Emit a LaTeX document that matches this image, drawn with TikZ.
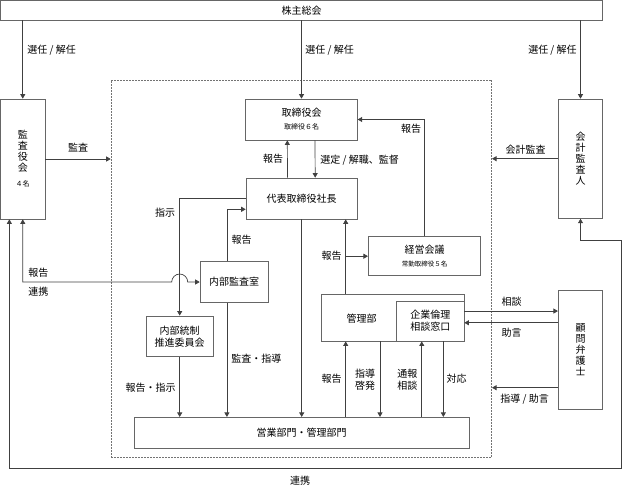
\documentclass[tikz,border=0pt]{standalone}
\usepackage{fontspec}
\setmainfont{Noto Sans CJK JP}
\usetikzlibrary{arrows.meta}

\begin{document}
\begin{tikzpicture}[x=1pt,y=-1pt,->,>={Triangle[length=4.5pt,width=5pt]},line width=0.7pt,color=black!75,text=black,font=\fontsize{10}{12}\selectfont]
		\tikzstyle{box}=[draw=black!60,fill=white,inner sep=0pt,align=center]
		\tikzstyle{tate}=[box,font=\fontsize{10}{10.8}\selectfont]
		\tikzstyle{frame}=[draw=black!55,line width=0.6pt,dash pattern=on 2pt off 1pt,inner sep=0pt]
		\tikzstyle{txt}=[inner sep=0pt,align=center]
		\tikzstyle{small}=[font=\fontsize{7}{8}\selectfont]
		\useasboundingbox (0,0) rectangle (623,487);
		
		\node[frame,minimum width=380.7pt,minimum height=377.3pt] (waku) at (301.35,268.65) {};
		
		\node[box,minimum width=602.2pt,minimum height=19.5pt] (soukai) at (301.6,10.25) {株主総会};
		\node[tate,minimum width=44.5pt,minimum height=120pt] (kansa) at (22.75,159) {監\\査\\役\\会\\[5pt]{\fontsize{7}{8}\selectfont ４名}};
		\node[tate,minimum width=44.4pt,minimum height=119.3pt] (kaikei) at (580.5,158.7) {会\\計\\監\\査\\人};
		\node[tate,minimum width=44.4pt,minimum height=119.3pt] (bengo) at (580.5,349.7) {顧\\問\\弁\\護\\士};
		\node[box,minimum width=111.6pt,minimum height=41pt] (tori) at (301.5,119.5) {取締役会\\[1pt]{\fontsize{7}{8}\selectfont 取締役６名}};
		\node[box,minimum width=111.3pt,minimum height=41pt] (daihyo) at (301.7,198.5) {代表取締役社長};
		\node[box,minimum width=112.4pt,minimum height=39pt] (keiei) at (424.5,256.2) {経営会議\\[1pt]{\fontsize{6.5}{8}\selectfont 常勤取締役５名}};
		\node[box,minimum width=68.3pt,minimum height=40.6pt] (naibu) at (234.2,282) {内部監査室};
		\node[box,minimum width=67.3pt,minimum height=40.7pt] (tousei) at (179.7,336.3) {内部統制\\推進委員会};
		\node[box,minimum width=143pt,minimum height=46.7pt] (kanri) at (392.5,317.7) {};
		\node[txt] (kanri-t) at (361.7,319) {管理部};
		\node[box,minimum width=67.3pt,minimum height=40pt,anchor=south east] (rinri) at (kanri.south east) {企業倫理\\相談窓口};
		\node[box,minimum width=334.7pt,minimum height=31pt] (eigyo) at (301.7,432.8) {営業部門・管理部門};
		
		\coordinate (ecke) at (621.7,468.3);
		\coordinate (sprung) at (tousei.north |- naibu.west);
		\coordinate (nt) at ([xshift=-7.3pt]naibu.north);
		\coordinate (nb) at ([xshift=-7.3pt]naibu.south);
		\coordinate (hk) at ([xshift=-46.8pt]kanri.north);
		\coordinate (sk) at ([xshift=-12.5pt]kanri.south);
		\coordinate (tr) at ([xshift=-8.6pt]rinri.south);
		\coordinate (ta) at ([xshift=13pt]rinri.south);
		\coordinate (so) at ([yshift=10pt]rinri.east);
		\coordinate (jo) at ([yshift=-1.7pt]rinri.east);
		\coordinate (sj) at ([yshift=-38pt]bengo.west);
		
		\draw (soukai.south -| kansa.north) -- (kansa.north);
		\draw (soukai.south -| tori.north) -- (tori.north);
		\draw (soukai.south -| kaikei.north) -- (kaikei.north);
		\draw (kansa.east) -- (kansa.east -| waku.west);
		\draw (kaikei.west) -- (kaikei.west -| waku.east);
		\draw ([xshift=-14.2pt]daihyo.north) -- ([xshift=-14.2pt]tori.south);
		\draw ([xshift=13.5pt]tori.south) -- ([xshift=13.5pt]daihyo.north);
		\draw (keiei.north) |- (tori.east);
		\draw (daihyo.west) -| (tousei.north);
		\draw (nt) |- ([yshift=-10.8pt]daihyo.west);
		\draw[<->] (kansa.south) |- ([xshift=-8pt]sprung) arc[start angle=180,end angle=0,radius=8pt] -- (naibu.west);
		\draw[<->] ([xshift=-13.4pt]kansa.south) |- (ecke) |- ([yshift=-21.7pt]kaikei.south) -- (kaikei.south);
		\draw (tousei.south) -- (tousei.south |- eigyo.north);
		\draw (nb) -- (nb |- eigyo.north);
		\draw (daihyo.south) -- (daihyo.south |- eigyo.north);
		\draw (hk) -- (hk |- daihyo.south);
		\draw (hk |- keiei.west) -- (keiei.west);
		\draw (hk |- eigyo.north) -- (hk |- kanri.south);
		\draw (sk) -- (sk |- eigyo.north);
		\draw (tr |- eigyo.north) -- (tr);
		\draw (ta) -- (ta |- eigyo.north);
		\draw (so) -- (so -| bengo.west);
		\draw (jo -| bengo.west) -- (jo);
		\draw (sj) -- (sj -| waku.east);
		
		\node[txt,anchor=west] (sen1) at (27,50) {選任 / 解任};
		\node[txt,anchor=west] (sen2) at (305,50) {選任 / 解任};
		\node[txt,anchor=east] (sen3) at (577,50) {選任 / 解任};
		\node[txt] (kansa-l) at (78,148) {監査};
		\node[txt] (kaikei-l) at (525.5,150) {会計監査};
		\node[txt] (hou1) at (273,159) {報告};
		\node[txt,anchor=west] (sentei) at (320,160) {選定 / 解職、監督};
		\node[txt] (hou2) at (411,129) {報告};
		\node[txt] (shiji) at (165,213) {指示};
		\node[txt] (hou3) at (241.7,239.3) {報告};
		\node[txt] (hou4) at (331.7,256) {報告};
		\node[txt,anchor=west] (hou5) at (28,273) {報告};
		\node[txt,anchor=west] (renkei1) at (28,291.7) {連携};
		\node[txt,anchor=east] (houshi) at (176,387.7) {報告・指示};
		\node[txt,anchor=west] (kanshi) at (231,359) {監査・指導};
		\node[txt] (hou6) at (331.7,379) {報告};
		\node[txt] (keihatsu) at (365,380) {指導\\啓発};
		\node[txt] (tsuho) at (407.3,380) {通報\\相談};
		\node[txt] (taiou) at (456.7,379) {対応};
		\node[txt] (soudan) at (511.7,301.7) {相談};
		\node[txt] (jogen) at (511.7,333) {助言};
		\node[txt,anchor=west] (shijo) at (500,399.3) {指導 / 助言};
		\node[txt] (renkei2) at (300,481) {連携};
	\end{tikzpicture}
\end{document}
